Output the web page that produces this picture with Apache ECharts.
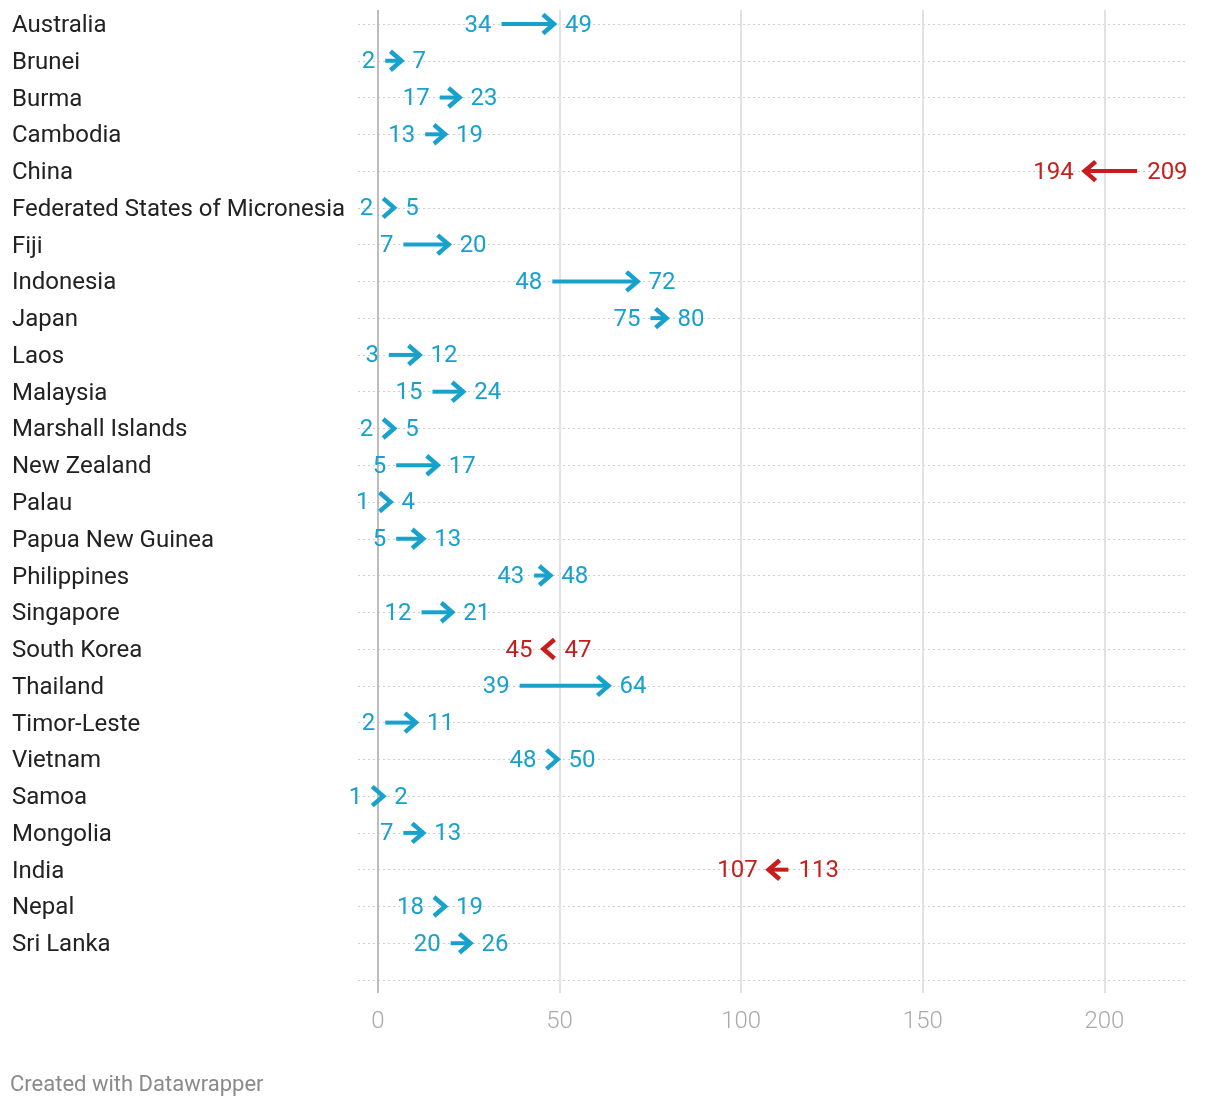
<!DOCTYPE html>
<html>
<head>
<meta charset="utf-8">
<script src="https://cdn.jsdelivr.net/npm/echarts@6/dist/echarts.min.js"></script>
<style>
html,body{margin:0;padding:0;background:#fff;}
#chart{width:1220px;height:1108px;}
</style>
</head>
<body>
<div id="chart"></div>
<script>
const countries = ["Australia","Brunei","Burma","Cambodia","China","Federated States of Micronesia","Fiji","Indonesia","Japan","Laos","Malaysia","Marshall Islands","New Zealand","Palau","Papua New Guinea","Philippines","Singapore","South Korea","Thailand","Timor-Leste","Vietnam","Samoa","Mongolia","India","Nepal","Sri Lanka"];
const startValues = [34,2,17,13,209,2,7,48,75,3,15,2,5,1,5,43,12,47,39,2,48,1,7,113,18,20];
const endValues   = [49,7,23,19,194,5,20,72,80,12,24,5,17,4,13,48,21,45,64,11,50,2,13,107,19,26];
const xTicks = [0,50,100,150,200];

const BLUE = '#18a1cd';
const RED = '#c71e1d';
const FONT = 'Roboto';

const rowIdx = countries.map((c,i)=>i);
const gridRows = countries.map((c,i)=>i).concat([countries.length]);
const seriesData = countries.map((c,i)=>[i, startValues[i], endValues[i]]);

const chart = echarts.init(document.getElementById('chart'), null, {renderer:'canvas'});
chart.setOption({
  animation:false,
  backgroundColor:'#fff',
  title:{
    text:'Created with Datawrapper',
    left:5, top:1069,
    textStyle:{fontFamily:FONT, fontSize:22, fontWeight:'normal', color:'#8a8a8a'}
  },
  grid:{left:358, right:32, top:10, bottom:115},
  xAxis:{
    type:'value', min:-5.5, max:223,
    axisLine:{show:false},
    axisTick:{show:false, customValues:xTicks},
    axisLabel:{customValues:xTicks, margin:17, color:'#aaaaaa', fontFamily:FONT, fontSize:24, fontWeight:300},
    splitLine:{show:true, lineStyle:{color:['#bdbdbd','#e2e2e2','#e2e2e2','#e2e2e2','#e2e2e2'], width:2}}
  },
  yAxis:{
    type:'value', inverse:true, min:-0.381, max:26.354,
    axisLine:{show:false},
    axisTick:{show:false, customValues:gridRows},
    axisLabel:{customValues:rowIdx, align:'left', margin:346, color:'#222', fontFamily:FONT, fontSize:24,
      formatter:(v)=>'{c|' + countries[Math.round(v)] + '}',
      rich:{c:{fontFamily:FONT, fontSize:24, color:'#222', padding:[4,0,0,0]}}},
    splitLine:{show:true, lineStyle:{color:'#cfcfcf', width:1, type:[2,3]}}
  },
  series:[{
    type:'custom',
    data:seriesData,
    encode:{x:[1,2], y:0},
    renderItem:function(params, api){
      const i = api.value(0), s = api.value(1), e = api.value(2);
      const ps = api.coord([s, i]), pe = api.coord([e, i]);
      const dir = e >= s ? 1 : -1;
      const color = dir > 0 ? BLUE : RED;
      const head = 11, hh = 9.5, lw = 4;
      const tipX = pe[0] - dir*2;
      const y = ps[1];
      const ty = y + 1.5;
      const children = [];
      if (Math.abs(tipX - ps[0]) > head) {
        children.push({type:'line', shape:{x1:ps[0], y1:y, x2:tipX - dir*1, y2:y},
          style:{stroke:color, lineWidth:lw, lineCap:'butt'}});
      }
      children.push({type:'polyline',
        shape:{points:[[tipX - dir*head, y - hh],[tipX, y],[tipX - dir*head, y + hh]]},
        style:{stroke:color, lineWidth:lw+0.5, fill:null, lineJoin:'miter', lineCap:'butt'}});
      const backX = dir > 0 ? Math.min(ps[0], tipX - head) : Math.max(ps[0], tipX + head);
      children.push({type:'text', style:{text:String(s), x:backX - dir*10, y:ty,
        align: dir>0 ? 'right' : 'left', verticalAlign:'middle', fill:color, font:'24px ' + FONT}});
      children.push({type:'text', style:{text:String(e), x:pe[0] + dir*9, y:ty,
        align: dir>0 ? 'left' : 'right', verticalAlign:'middle', fill:color, font:'24px ' + FONT}});
      return {type:'group', children:children};
    }
  }]
});
</script>
</body>
</html>
